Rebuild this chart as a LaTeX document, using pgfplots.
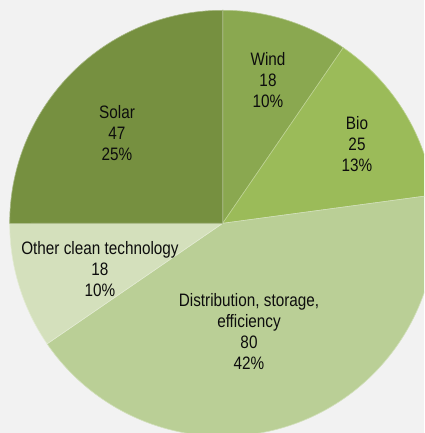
\documentclass[border=0pt]{standalone}
\usepackage{pgfplots}
\pgfplotsset{compat=1.18}
\usepackage{pgfplotstable}
\usepackage{fontspec}
\setmainfont[FakeStretch=0.85]{Liberation Sans}

\definecolor{bggray}{RGB}{242,242,242}
\definecolor{slice0}{RGB}{138,168,80}  % Wind
\definecolor{slice1}{RGB}{155,187,89}  % Bio
\definecolor{slice2}{RGB}{186,207,150} % Distribution
\definecolor{slice3}{RGB}{212,224,188} % Other
\definecolor{slice4}{RGB}{118,144,64}  % Solar

\tikzset{lbl/.style={font=\fontsize{18}{21}\selectfont, text=black!95, align=center, inner sep=0pt}}

% investment by technology, clockwise from 12 o'clock
\pgfplotstableread{
name value
Wind 18
Bio 25
Distribution 80
Other 18
Solar 47
}\piedata

\begin{document}
\begin{tikzpicture}
\xdef\total{0}
\pgfplotsforeachungrouped \i in {0,...,4}{
  \pgfplotstablegetelem{\i}{value}\of\piedata
  \pgfmathsetmacro{\tmp}{\total+\pgfplotsretval}
  \xdef\total{\tmp}
}
\begin{axis}[
  scale only axis,
  width=424pt, height=433pt,
  xmin=-222.7, xmax=201.3,
  ymin=-209.7, ymax=223.3,
  axis line style={draw=none},
  ticks=none,
  axis background/.style={fill=bggray},
  clip=true,
]
\xdef\curang{90}
\pgfplotsforeachungrouped \i in {0,...,4}{
  \pgfplotstablegetelem{\i}{value}\of\piedata
  \pgfmathsetmacro{\sliceang}{360/\total*\pgfplotsretval}
  \pgfmathsetmacro{\endang}{\curang-\sliceang}
  \edef\temp{\noexpand\fill[slice\i, draw=white!35!slice\i, line width=0.6pt]
    (axis cs:0,0) -- (axis cs:{213*cos(\curang)},{213*sin(\curang)})
    arc[start angle=\curang, end angle=\endang, radius=213pt] -- cycle;}
  \temp
  \global\let\curang\endang
}
\node[lbl] at (axis cs:45.3,143.3) {Wind\\18\\10\%};
\node[lbl] at (axis cs:134.3,79.3) {Bio\\25\\13\%};
\node[lbl] at (axis cs:26.3,-108.2) {Distribution, storage,\\efficiency\\80\\42\%};
\node[lbl] at (axis cs:-122.7,-45.7) {Other clean technology\\18\\10\%};
\node[lbl] at (axis cs:-105.7,90.3) {Solar\\47\\25\%};
\end{axis}
\end{tikzpicture}
\end{document}
